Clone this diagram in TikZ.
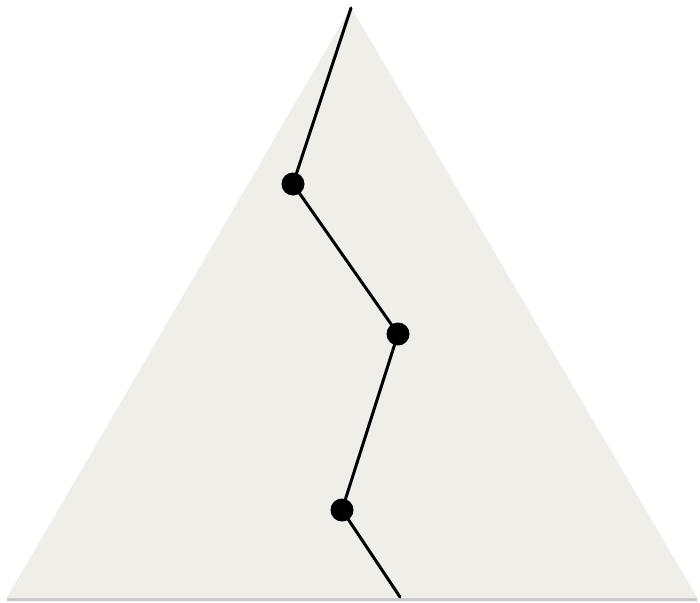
\documentclass[tikz,border=0pt]{standalone}
\usepackage{tikz}
\definecolor{fondo}{RGB}{240,238,232}
\definecolor{sombra}{RGB}{200,200,200}
\tikzset{punto/.style={circle, fill=black, inner sep=0pt, minimum size=0.46cm}}

\begin{document}
\begin{tikzpicture}[x=0.02cm, y=-0.02cm]
    \useasboundingbox (0,0) rectangle (700,602);
    \fill[sombra] (7,598) -- (351,10) -- (697,598) -- (697,601) -- (7,601) -- cycle; % sombra
    \fill[fondo] (7,598) -- (351,7) -- (697,598) -- cycle; % triangulo
    \coordinate (arriba) at (351,8);
    \node[punto] (p1) at (293,184) {};
    \node[punto] (p2) at (398,334) {};
    \node[punto] (p3) at (342,510) {};
    \coordinate (abajo) at (400,597);
    \draw[line width=1.7pt, line cap=round] (arriba) -- (p1.center) -- (p2.center) -- (p3.center) -- (abajo); % camino
\end{tikzpicture}
\end{document}
